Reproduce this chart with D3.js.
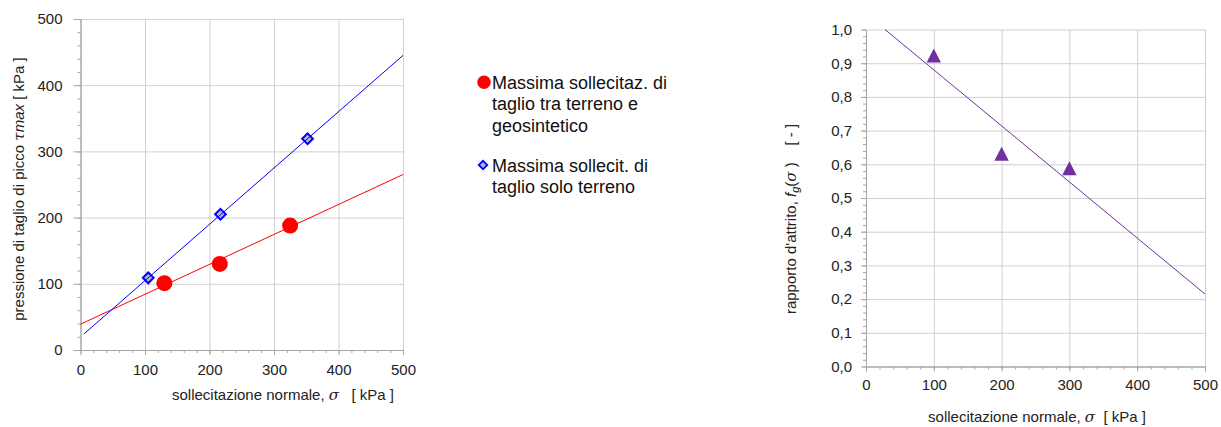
<!DOCTYPE html>
<html>
<head>
<meta charset="utf-8">
<script src="https://cdn.jsdelivr.net/npm/d3@7"></script>
<style>
  body { margin: 0; background: #fff; }
  svg { font-family: Arial, "Liberation Sans", sans-serif; }
  .grid line { stroke: #d0d0d0; stroke-width: 1; }
  .grid path { display: none; }
  .axis path, .axis line { stroke: #a6a6a6; }
  .axis text { fill: #222; font-size: 15px; }
  .title { white-space: pre; }
</style>
</head>
<body>
<div id="chart"></div>
<script>
// left chart data
const geoSigma = [130, 216, 325];
const geoTau = [101, 130, 188];
const soilSigma = [105, 217, 352];
const soilTau = [109, 205, 319];
const geoFit = [[0, 39], [500, 265]];
const soilFit = [[5, 24], [500, 445]];
const tauTicks = [0, 100, 200, 300, 400, 500];
const sigmaTicks = [0, 100, 200, 300, 400, 500];

// right chart data
const ratioSigma = [100, 200, 300];
const ratioValues = [0.923, 0.631, 0.588];
const ratioFit = [[28, 1.0], [500, 0.215]];
const ratioTicks = [0, 0.1, 0.2, 0.3, 0.4, 0.5, 0.6, 0.7, 0.8, 0.9, 1.0];

const svg = d3.select('#chart').append('svg').attr('width', 1221).attr('height', 427);

const drawFrame = (g, x, y, opt) => {
  const [x0, x1] = x.range();
  const [y0, y1] = y.range();
  g.append('g').attr('class', 'grid')
    .attr('transform', `translate(0,${y0})`)
    .call(d3.axisBottom(x).tickValues(opt.xTicks.slice(1)).tickFormat('').tickSize(-(y0 - y1)));
  g.append('g').attr('class', 'grid')
    .attr('transform', `translate(${x0},0)`)
    .call(d3.axisLeft(y).tickValues(opt.yTicks.slice(1)).tickFormat('').tickSize(-(x1 - x0)));

  // minor ticks
  g.append('g').attr('class', 'axis')
    .attr('transform', `translate(0,${y0})`)
    .call(d3.axisBottom(x).tickValues(opt.xMinor).tickFormat('').tickSize(3).tickSizeOuter(0));
  g.append('g').attr('class', 'axis')
    .attr('transform', `translate(${x0},0)`)
    .call(d3.axisLeft(y).tickValues(opt.yMinor).tickFormat('').tickSize(3).tickSizeOuter(0));

  g.append('g').attr('class', 'axis')
    .attr('transform', `translate(0,${y0})`)
    .call(d3.axisBottom(x).tickValues(opt.xTicks).tickSize(5).tickSizeOuter(0).tickPadding(opt.xPad));
  g.append('g').attr('class', 'axis')
    .attr('transform', `translate(${x0},0)`)
    .call(d3.axisLeft(y).tickValues(opt.yTicks).tickSize(opt.yTick).tickSizeOuter(0)
      .tickPadding(opt.yPad).tickFormat(opt.yFmt));
};

const minorOf = (lo, hi, step) => d3.range(lo, hi + step / 2, step).map((v) => +v.toFixed(4));

// ---- left chart ----
const x1 = d3.scaleLinear().domain([0, 500]).range([80.5, 403]);
const y1 = d3.scaleLinear().domain([0, 500]).range([350, 19]);
const left = svg.append('g');
drawFrame(left, x1, y1, {
  xTicks: sigmaTicks, yTicks: tauTicks,
  xMinor: minorOf(0, 500, 20), yMinor: minorOf(0, 500, 20),
  yFmt: d3.format('d'), xPad: 9, yTick: 7, yPad: 11,
});

const line1 = d3.line().x((d) => x1(d[0])).y((d) => y1(d[1]));

left.selectAll('circle.geo')
  .data(geoSigma)
  .enter()
  .append('circle')
  .attr('cx', (d) => x1(d))
  .attr('cy', (d, i) => y1(geoTau[i]))
  .attr('r', 8)
  .attr('fill', '#ff0000');

left.append('path').datum(geoFit).attr('fill', 'none').attr('stroke', '#ff0000').attr('stroke-width', 1).attr('d', line1);

left.selectAll('rect.soil')
  .data(soilSigma)
  .enter()
  .append('rect')
  .attr('x', -3.8)
  .attr('y', -3.8)
  .attr('width', 7.6)
  .attr('height', 7.6)
  .attr('transform', (d, i) => `translate(${x1(d)},${y1(soilTau[i])}) rotate(45)`)
  .attr('fill', '#b4b8cc')
  .attr('stroke', '#0000ff')
  .attr('stroke-width', 2);

left.append('path').datum(soilFit).attr('fill', 'none').attr('stroke', '#0000ff').attr('stroke-width', 1).attr('d', line1);

const yl = left.append('text')
  .attr('class', 'title')
  .attr('transform', 'translate(24,189) rotate(-90)')
  .attr('text-anchor', 'middle')
  .style('font-size', '15px')
  .attr('fill', '#222');
yl.append('tspan').text('pressione di taglio di picco ');
yl.append('tspan').attr('font-style', 'italic').attr('font-family', 'DejaVu Serif, serif').text('τ');
yl.append('tspan').attr('font-style', 'italic').text('max');
yl.append('tspan').text(' [ kPa ]');

const xl = left.append('text')
  .attr('class', 'title')
  .attr('x', 283)
  .attr('y', 400)
  .attr('text-anchor', 'middle')
  .style('font-size', '15px')
  .attr('fill', '#222');
xl.append('tspan').text('sollecitazione normale, ');
xl.append('tspan').attr('font-style', 'italic').attr('font-family', 'DejaVu Serif, serif').text('σ');
xl.append('tspan').text('   [ kPa ]');

// ---- legend ----
const legend = svg.append('g').style('font-size', '18px').attr('fill', '#111');
legend.append('circle').attr('cx', 484).attr('cy', 82.3).attr('r', 6.7).attr('fill', '#ff0000');
['Massima sollecitaz. di', 'taglio tra terreno e', 'geosintetico'].forEach((t, i) => {
  legend.append('text').attr('x', 492).attr('y', 88.5 + i * 21.5).text(t);
});
legend.append('rect')
  .attr('x', -3).attr('y', -3).attr('width', 6).attr('height', 6)
  .attr('transform', 'translate(483,165) rotate(45)')
  .attr('fill', '#b4b8cc').attr('stroke', '#0000ff').attr('stroke-width', 1.8);
['Massima sollecit. di', 'taglio solo terreno'].forEach((t, i) => {
  legend.append('text').attr('x', 492).attr('y', 171.5 + i * 21.5).text(t);
});

// ---- right chart ----
const x2 = d3.scaleLinear().domain([0, 500]).range([866, 1205]);
const y2 = d3.scaleLinear().domain([0, 1]).range([366.5, 29.5]);
const right = svg.append('g');
drawFrame(right, x2, y2, {
  xTicks: sigmaTicks, yTicks: ratioTicks,
  xMinor: minorOf(0, 500, 20), yMinor: minorOf(0, 1, 0.02),
  yFmt: (d) => d3.format('.1f')(d).replace('.', ','), xPad: 8, yTick: 5, yPad: 9,
});

const line2 = d3.line().x((d) => x2(d[0])).y((d) => y2(d[1]));
right.append('path').datum(ratioFit).attr('fill', 'none').attr('stroke', '#7030a0').attr('stroke-width', 1).attr('d', line2);

right.selectAll('path.tri')
  .data(ratioSigma)
  .enter()
  .append('path')
  .attr('d', 'M0,-7L7.2,7L-7.2,7Z')
  .attr('transform', (d, i) => `translate(${x2(d)},${y2(ratioValues[i])})`)
  .attr('fill', '#7030a0');

const yr = right.append('text')
  .attr('class', 'title')
  .attr('transform', 'translate(796,219) rotate(-90)')
  .attr('text-anchor', 'middle')
  .style('font-size', '15px')
  .attr('fill', '#222');
yr.append('tspan').text("rapporto d'attrito, ");
yr.append('tspan').attr('font-style', 'italic').text('f');
yr.append('tspan').attr('font-style', 'italic').attr('dy', 3).style('font-size', '11px').text('g');
yr.append('tspan').attr('dy', -3).text('(');
yr.append('tspan').attr('font-style', 'italic').attr('font-family', 'DejaVu Serif, serif').text('σ');
yr.append('tspan').text(' )    [ - ]');

const xr = right.append('text')
  .attr('class', 'title')
  .attr('x', 1037)
  .attr('y', 421.5)
  .attr('text-anchor', 'middle')
  .style('font-size', '15px')
  .attr('fill', '#222');
xr.append('tspan').text('sollecitazione normale, ');
xr.append('tspan').attr('font-style', 'italic').attr('font-family', 'DejaVu Serif, serif').text('σ');
xr.append('tspan').text('  [ kPa ]');
</script>
</body>
</html>
